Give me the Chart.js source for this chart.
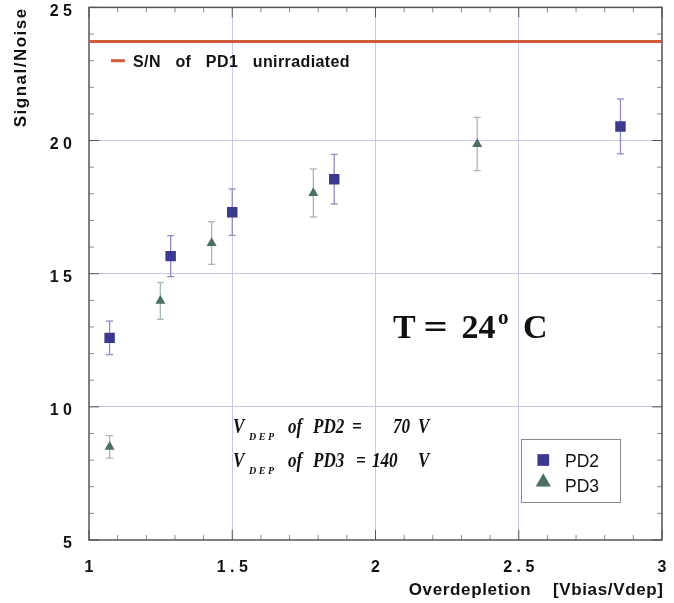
<!DOCTYPE html>
<html><head><meta charset="utf-8">
<script src="https://cdn.jsdelivr.net/npm/chart.js@4.4.0/dist/chart.umd.min.js"></script>
<style>html,body{margin:0;padding:0;background:#fff}canvas{display:block}</style>
</head><body>
<canvas id="c" width="674" height="603"></canvas>
<script>
// ---- data ----
const pd2X   = [1.072, 1.285, 1.500, 1.856, 2.855];
const pd2Y   = [12.59, 15.66, 17.31, 18.55, 20.53];
const pd2Err = [0.63, 0.77, 0.87, 0.93, 1.03];
const pd3X   = [1.072, 1.249, 1.428, 1.783, 2.355];
const pd3Y   = [8.50, 13.98, 16.15, 18.03, 19.87];
const pd3Err = [0.42, 0.69, 0.80, 0.90, 1.00];
const pd1Level = 23.72;
const xRange = [1, 3];
const yRange = [5, 25];
const xTickValues = [1, 1.5, 2, 2.5, 3];
const xTickLabels = ['1', '1.5', '2', '2.5', '3'];
const yTickValues = [5, 10, 15, 20, 25];
const yTickLabels = ['5', '10', '15', '20', '25'];
const seriesLabels = ['PD2', 'PD3'];
const refLabel = 'S/N of PD1 unirradiated';
const xTitle = 'Overdepletion [Vbias/Vdep]';
const yTitle = 'Signal/Noise';
const tempLabel = ['T', '=', '24', 'o', 'C'];
const vdepLines = [['V', 'DEP', 'of', 'PD2', '=', '70', 'V'], ['V', 'DEP', 'of', 'PD3', '=', '140', 'V']];

// ---- styles ----
const SANS = '"Liberation Sans", Arial, sans-serif';
const SERIF = '"Liberation Serif", "Times New Roman", serif';
const GRID = '#cac7e6';
const AXIS = '#555555';
const PD2C = '#3c3a8e';
const PD3C = '#4b6f63';
const PD2E = '#8e8bc6';
const PD3E = '#a3b8b0';
const REDC = '#d05a3c';

const spaced = s => s.split('').join(' ');
const isTick = (v, list) => list.some(t => Math.abs(t - v) < 1e-6);
const tickLabel = (v, vals, labs) => { const i = vals.findIndex(t => Math.abs(t - v) < 1e-6); return i >= 0 ? spaced(labs[i]) : ''; };

function spacedText(ctx, text, x, y, width, align) {
  ctx.letterSpacing = '0px';
  const w0 = ctx.measureText(text).width;
  const n = text.length;
  const ls = (width - w0) / n;
  ctx.letterSpacing = ls + 'px';
  ctx.textAlign = align;
  let dx = 0;
  if (align === 'right') dx = ls; else if (align === 'center') dx = ls / 2;
  ctx.fillText(text, x + dx, y);
  ctx.letterSpacing = '0px';
}

const decor = {
  id: 'decor',
  beforeDatasetsDraw(chart) {
    const {ctx, chartArea: a, scales: {x, y}} = chart;
    ctx.save();
    const line = (x1, y1, x2, y2) => { ctx.beginPath(); ctx.moveTo(x1, y1); ctx.lineTo(x2, y2); ctx.stroke(); };
    // inward ticks on all four sides
    ctx.lineWidth = 1;
    x.ticks.forEach(t => {
      const px = x.getPixelForValue(t.value);
      const major = isTick(t.value, xTickValues);
      ctx.strokeStyle = major ? AXIS : '#8a8a8a';
      const L = major ? 10 : 5;
      line(px, a.bottom, px, a.bottom - L);
      line(px, a.top, px, a.top + L);
    });
    y.ticks.forEach(t => {
      const py = y.getPixelForValue(t.value);
      const major = isTick(t.value, yTickValues);
      ctx.strokeStyle = major ? AXIS : '#8a8a8a';
      const L = major ? 10 : 5;
      line(a.left, py, a.left + L, py);
      line(a.right, py, a.right - L, py);
    });
    // frame
    ctx.strokeStyle = AXIS; ctx.lineWidth = 1.5;
    ctx.strokeRect(a.left, a.top, a.right - a.left, a.bottom - a.top);
    // error bars
    const errs = [[1, pd2Err, PD2E], [2, pd3Err, PD3E]];
    errs.forEach(([di, err, col]) => {
      const ds = chart.data.datasets[di];
      ctx.strokeStyle = col; ctx.lineWidth = 1.3;
      ds.data.forEach((d, i) => {
        const px = x.getPixelForValue(d.x);
        const yt = y.getPixelForValue(d.y + err[i]);
        const yb = y.getPixelForValue(d.y - err[i]);
        line(px, yt, px, yb);
        line(px - 3.5, yt, px + 3.5, yt);
        line(px - 3.5, yb, px + 3.5, yb);
      });
    });
    ctx.restore();
  },
  afterDraw(chart) {
    const {ctx} = chart;
    ctx.save();
    ctx.fillStyle = '#111';
    ctx.textBaseline = 'alphabetic';
    // axis titles
    ctx.font = 'bold 17px ' + SANS;
    spacedText(ctx, xTitle.replace(' ', '    '), 663, 595, 255, 'right');
    ctx.save();
    ctx.translate(26, 68);
    ctx.rotate(-Math.PI / 2);
    ctx.font = 'bold 17px ' + SANS;
    spacedText(ctx, yTitle, 0, 0, 120, 'center');
    ctx.restore();

    // reference-line legend
    const ref = chart.data.datasets[0];
    ctx.strokeStyle = ref.borderColor; ctx.lineWidth = 3;
    ctx.beginPath(); ctx.moveTo(111, 60.7); ctx.lineTo(125, 60.7); ctx.stroke();
    ctx.font = 'bold 16px ' + SANS;
    spacedText(ctx, ref.label.split(' ').join('   '), 133, 66.5, 217, 'left');

    // T = 24° C
    ctx.textAlign = 'left';
    ctx.font = 'bold 34px ' + SERIF;
    ctx.fillText(tempLabel[0], 393, 338);
    ctx.save(); ctx.translate(423.5, 338); ctx.scale(1.25, 1); ctx.fillText(tempLabel[1], 0, 0); ctx.restore();
    ctx.fillText(tempLabel[2], 461.5, 338);
    ctx.font = 'bold 21px ' + SERIF;
    ctx.fillText(tempLabel[3], 498, 323.5);
    ctx.font = 'bold 34px ' + SERIF;
    ctx.fillText(tempLabel[4], 523, 338);

    // V_DEP annotations
    const xs = [[233, 249, 288, 313, 352, 393, 418], [233, 249, 288, 313, 356, 372, 418]];
    const bases = [433.3, 466.7];
    vdepLines.forEach((parts, li) => {
      parts.forEach((p, pi) => {
        const px = xs[li][pi];
        ctx.save();
        if (pi === 1) {
          ctx.font = 'bold italic 10px ' + SERIF;
          ctx.translate(px, bases[li] + 7);
          ctx.letterSpacing = '2.5px';
        } else {
          ctx.font = 'bold italic 19px ' + SERIF;
          ctx.translate(px, bases[li]);
          ctx.scale(0.9, 1.12);
        }
        ctx.fillText(p, 0, 0);
        ctx.restore();
      });
    });

    // series legend box
    ctx.fillStyle = '#fff';
    ctx.fillRect(521.5, 439.5, 99, 63);
    ctx.strokeStyle = '#8a8a8a'; ctx.lineWidth = 1;
    ctx.strokeRect(521.5, 439.5, 99, 63);
    const items = [[1, 460, 8.3, 466.7], [2, 482, 8.8, 491.7]];
    items.forEach(([di, py, r, base]) => {
      const ds = chart.data.datasets[di];
      ctx.fillStyle = ds.backgroundColor;
      Chart.helpers.drawPoint(ctx, {pointStyle: ds.pointStyle, radius: r, borderWidth: 0, rotation: 0}, 543.3, py);
      ctx.fillStyle = '#111';
      ctx.font = '17.5px ' + SANS;
      ctx.textAlign = 'left';
      ctx.fillText(ds.label, 565, base);
    });
    ctx.restore();
  }
};

Chart.defaults.font.family = SANS;
Chart.defaults.color = '#111';

new Chart(document.getElementById('c'), {
  data: {
    datasets: [
      {
        type: 'line', label: refLabel,
        data: xRange.map(v => ({x: v, y: pd1Level})),
        borderColor: REDC, borderWidth: 3.2, pointRadius: 0, fill: false
      },
      {
        type: 'scatter', label: seriesLabels[0],
        data: pd2X.map((v, i) => ({x: v, y: pd2Y[i]})),
        pointStyle: 'rect', pointRadius: 7.4, backgroundColor: PD2C, borderWidth: 0
      },
      {
        type: 'scatter', label: seriesLabels[1],
        data: pd3X.map((v, i) => ({x: v, y: pd3Y[i]})),
        pointStyle: 'triangle', pointRadius: 5.8, backgroundColor: PD3C, borderWidth: 0
      }
    ]
  },
  options: {
    responsive: false,
    animation: false,
    devicePixelRatio: 1,
    layout: {padding: {top: 7, right: 12, bottom: 0, left: 0}},
    plugins: {legend: {display: false}, tooltip: {enabled: false}},
    scales: {
      x: {
        type: 'linear', min: xRange[0], max: xRange[1],
        afterFit(s) { s.height = 63; s.paddingLeft = 0; s.paddingRight = 0; },
        ticks: {
          stepSize: 0.1, autoSkip: false, maxRotation: 0, padding: 18,
          font: {size: 16, weight: 'bold'}, color: '#111',
          callback: v => tickLabel(v, xTickValues, xTickLabels)
        },
        grid: {
          drawTicks: false,
          color: c => (c.tick && isTick(c.tick.value, xTickValues) && c.tick.value > xRange[0] && c.tick.value < xRange[1]) ? GRID : 'rgba(0,0,0,0)',
          lineWidth: 1
        },
        border: {display: false}
      },
      y: {
        type: 'linear', min: yRange[0], max: yRange[1],
        afterFit(s) { s.width = 89; s.paddingTop = 0; s.paddingBottom = 0; },
        ticks: {
          stepSize: 1, autoSkip: false, padding: 17, labelOffset: 4,
          font: {size: 16, weight: 'bold'}, color: '#111',
          callback: v => tickLabel(v, yTickValues, yTickLabels)
        },
        grid: {
          drawTicks: false,
          color: c => (c.tick && isTick(c.tick.value, yTickValues) && c.tick.value > yRange[0] && c.tick.value < yRange[1]) ? GRID : 'rgba(0,0,0,0)',
          lineWidth: 1
        },
        border: {display: false}
      }
    }
  },
  plugins: [decor]
});
</script>
</body></html>
